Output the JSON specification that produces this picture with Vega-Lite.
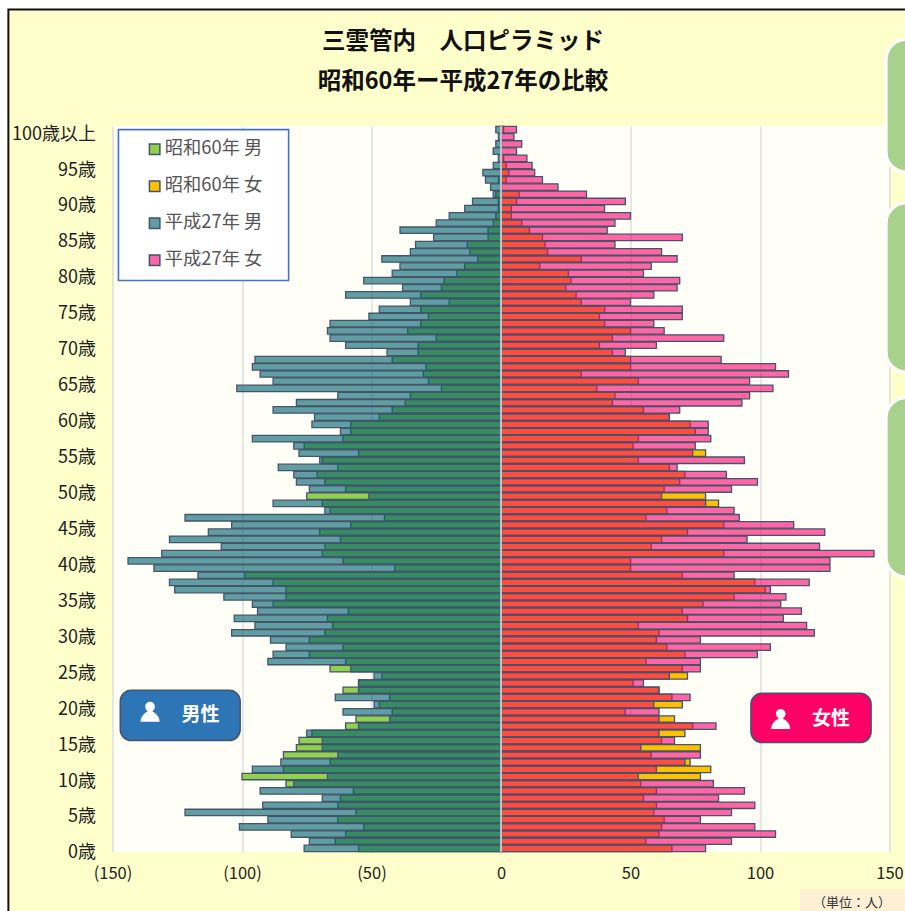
{"$schema":"https://vega.github.io/schema/vega-lite/v6.json","width":777,"height":726,"autosize":"none","padding":{"left":112.5,"top":126,"right":15.5,"bottom":59},"background":"#FFFFCC","view":{"fill":"#FFFFF8","stroke":null},
"config":{"font":"Noto Sans CJK JP"},
"datasets":{"pop":[
{"a":93,"s":"昭和60年 男","v":-1},{"a":91,"s":"昭和60年 男","v":-2},{"a":90,"s":"昭和60年 男","v":-1},{"a":89,"s":"昭和60年 男","v":-1},{"a":88,"s":"昭和60年 男","v":-2},{"a":87,"s":"昭和60年 男","v":-3},{"a":86,"s":"昭和60年 男","v":-5},{"a":85,"s":"昭和60年 男","v":-5},{"a":84,"s":"昭和60年 男","v":-13},{"a":83,"s":"昭和60年 男","v":-12},{"a":82,"s":"昭和60年 男","v":-9},{"a":81,"s":"昭和60年 男","v":-14},{"a":80,"s":"昭和60年 男","v":-17},{"a":79,"s":"昭和60年 男","v":-22},{"a":78,"s":"昭和60年 男","v":-23},{"a":77,"s":"昭和60年 男","v":-31},{"a":76,"s":"昭和60年 男","v":-20},{"a":75,"s":"昭和60年 男","v":-31},{"a":74,"s":"昭和60年 男","v":-28},{"a":73,"s":"昭和60年 男","v":-31},{"a":72,"s":"昭和60年 男","v":-36},{"a":71,"s":"昭和60年 男","v":-25},{"a":70,"s":"昭和60年 男","v":-32},{"a":69,"s":"昭和60年 男","v":-32},{"a":68,"s":"昭和60年 男","v":-42},{"a":67,"s":"昭和60年 男","v":-29},{"a":66,"s":"昭和60年 男","v":-30},{"a":65,"s":"昭和60年 男","v":-28},{"a":64,"s":"昭和60年 男","v":-23},{"a":63,"s":"昭和60年 男","v":-35},{"a":62,"s":"昭和60年 男","v":-37},{"a":61,"s":"昭和60年 男","v":-42},{"a":60,"s":"昭和60年 男","v":-47},{"a":59,"s":"昭和60年 男","v":-58},{"a":58,"s":"昭和60年 男","v":-58},{"a":57,"s":"昭和60年 男","v":-61},{"a":56,"s":"昭和60年 男","v":-76},{"a":55,"s":"昭和60年 男","v":-55},{"a":54,"s":"昭和60年 男","v":-69},{"a":53,"s":"昭和60年 男","v":-63},{"a":52,"s":"昭和60年 男","v":-71},{"a":51,"s":"昭和60年 男","v":-68},{"a":50,"s":"昭和60年 男","v":-60},{"a":49,"s":"昭和60年 男","v":-75},{"a":48,"s":"昭和60年 男","v":-69},{"a":47,"s":"昭和60年 男","v":-66},{"a":46,"s":"昭和60年 男","v":-45},{"a":45,"s":"昭和60年 男","v":-58},{"a":44,"s":"昭和60年 男","v":-70},{"a":43,"s":"昭和60年 男","v":-62},{"a":42,"s":"昭和60年 男","v":-68},{"a":41,"s":"昭和60年 男","v":-69},{"a":40,"s":"昭和60年 男","v":-61},{"a":39,"s":"昭和60年 男","v":-41},{"a":38,"s":"昭和60年 男","v":-99},{"a":37,"s":"昭和60年 男","v":-88},{"a":36,"s":"昭和60年 男","v":-83},{"a":35,"s":"昭和60年 男","v":-83},{"a":34,"s":"昭和60年 男","v":-88},{"a":33,"s":"昭和60年 男","v":-59},{"a":32,"s":"昭和60年 男","v":-67},{"a":31,"s":"昭和60年 男","v":-65},{"a":30,"s":"昭和60年 男","v":-68},{"a":29,"s":"昭和60年 男","v":-74},{"a":28,"s":"昭和60年 男","v":-61},{"a":27,"s":"昭和60年 男","v":-74},{"a":26,"s":"昭和60年 男","v":-60},{"a":25,"s":"昭和60年 男","v":-66},{"a":24,"s":"昭和60年 男","v":-46},{"a":23,"s":"昭和60年 男","v":-55},{"a":22,"s":"昭和60年 男","v":-61},{"a":21,"s":"昭和60年 男","v":-43},{"a":20,"s":"昭和60年 男","v":-47},{"a":19,"s":"昭和60年 男","v":-42},{"a":18,"s":"昭和60年 男","v":-56},{"a":17,"s":"昭和60年 男","v":-60},{"a":16,"s":"昭和60年 男","v":-73},{"a":15,"s":"昭和60年 男","v":-78},{"a":14,"s":"昭和60年 男","v":-79},{"a":13,"s":"昭和60年 男","v":-84},{"a":12,"s":"昭和60年 男","v":-66},{"a":11,"s":"昭和60年 男","v":-84},{"a":10,"s":"昭和60年 男","v":-100},{"a":9,"s":"昭和60年 男","v":-83},{"a":8,"s":"昭和60年 男","v":-57},{"a":7,"s":"昭和60年 男","v":-62},{"a":6,"s":"昭和60年 男","v":-63},{"a":5,"s":"昭和60年 男","v":-56},{"a":4,"s":"昭和60年 男","v":-63},{"a":3,"s":"昭和60年 男","v":-53},{"a":2,"s":"昭和60年 男","v":-60},{"a":1,"s":"昭和60年 男","v":-64},{"a":0,"s":"昭和60年 男","v":-55},
{"a":100,"s":"昭和60年 女","v":1},{"a":96,"s":"昭和60年 女","v":1},{"a":95,"s":"昭和60年 女","v":2},{"a":94,"s":"昭和60年 女","v":3},{"a":93,"s":"昭和60年 女","v":2},{"a":91,"s":"昭和60年 女","v":7},{"a":90,"s":"昭和60年 女","v":6},{"a":89,"s":"昭和60年 女","v":4},{"a":88,"s":"昭和60年 女","v":4},{"a":87,"s":"昭和60年 女","v":8},{"a":86,"s":"昭和60年 女","v":11},{"a":85,"s":"昭和60年 女","v":16},{"a":84,"s":"昭和60年 女","v":17},{"a":83,"s":"昭和60年 女","v":18},{"a":82,"s":"昭和60年 女","v":31},{"a":81,"s":"昭和60年 女","v":15},{"a":80,"s":"昭和60年 女","v":26},{"a":79,"s":"昭和60年 女","v":27},{"a":78,"s":"昭和60年 女","v":25},{"a":77,"s":"昭和60年 女","v":29},{"a":76,"s":"昭和60年 女","v":31},{"a":75,"s":"昭和60年 女","v":40},{"a":74,"s":"昭和60年 女","v":38},{"a":73,"s":"昭和60年 女","v":40},{"a":72,"s":"昭和60年 女","v":50},{"a":71,"s":"昭和60年 女","v":43},{"a":70,"s":"昭和60年 女","v":38},{"a":69,"s":"昭和60年 女","v":43},{"a":68,"s":"昭和60年 女","v":50},{"a":67,"s":"昭和60年 女","v":50},{"a":66,"s":"昭和60年 女","v":31},{"a":65,"s":"昭和60年 女","v":53},{"a":64,"s":"昭和60年 女","v":37},{"a":63,"s":"昭和60年 女","v":44},{"a":62,"s":"昭和60年 女","v":43},{"a":61,"s":"昭和60年 女","v":55},{"a":60,"s":"昭和60年 女","v":65},{"a":59,"s":"昭和60年 女","v":73},{"a":58,"s":"昭和60年 女","v":75},{"a":57,"s":"昭和60年 女","v":53},{"a":56,"s":"昭和60年 女","v":51},{"a":55,"s":"昭和60年 女","v":79},{"a":54,"s":"昭和60年 女","v":53},{"a":53,"s":"昭和60年 女","v":65},{"a":52,"s":"昭和60年 女","v":71},{"a":51,"s":"昭和60年 女","v":69},{"a":50,"s":"昭和60年 女","v":63},{"a":49,"s":"昭和60年 女","v":79},{"a":48,"s":"昭和60年 女","v":84},{"a":47,"s":"昭和60年 女","v":64},{"a":46,"s":"昭和60年 女","v":56},{"a":45,"s":"昭和60年 女","v":86},{"a":44,"s":"昭和60年 女","v":72},{"a":43,"s":"昭和60年 女","v":62},{"a":42,"s":"昭和60年 女","v":58},{"a":41,"s":"昭和60年 女","v":86},{"a":40,"s":"昭和60年 女","v":50},{"a":39,"s":"昭和60年 女","v":50},{"a":38,"s":"昭和60年 女","v":70},{"a":37,"s":"昭和60年 女","v":98},{"a":36,"s":"昭和60年 女","v":102},{"a":35,"s":"昭和60年 女","v":90},{"a":34,"s":"昭和60年 女","v":78},{"a":33,"s":"昭和60年 女","v":70},{"a":32,"s":"昭和60年 女","v":72},{"a":31,"s":"昭和60年 女","v":53},{"a":30,"s":"昭和60年 女","v":61},{"a":29,"s":"昭和60年 女","v":60},{"a":28,"s":"昭和60年 女","v":64},{"a":27,"s":"昭和60年 女","v":71},{"a":26,"s":"昭和60年 女","v":56},{"a":25,"s":"昭和60年 女","v":70},{"a":24,"s":"昭和60年 女","v":72},{"a":23,"s":"昭和60年 女","v":51},{"a":22,"s":"昭和60年 女","v":61},{"a":21,"s":"昭和60年 女","v":66},{"a":20,"s":"昭和60年 女","v":70},{"a":19,"s":"昭和60年 女","v":48},{"a":18,"s":"昭和60年 女","v":67},{"a":17,"s":"昭和60年 女","v":74},{"a":16,"s":"昭和60年 女","v":71},{"a":15,"s":"昭和60年 女","v":62},{"a":14,"s":"昭和60年 女","v":77},{"a":13,"s":"昭和60年 女","v":58},{"a":12,"s":"昭和60年 女","v":73},{"a":11,"s":"昭和60年 女","v":81},{"a":10,"s":"昭和60年 女","v":77},{"a":9,"s":"昭和60年 女","v":54},{"a":8,"s":"昭和60年 女","v":60},{"a":7,"s":"昭和60年 女","v":55},{"a":6,"s":"昭和60年 女","v":60},{"a":5,"s":"昭和60年 女","v":59},{"a":4,"s":"昭和60年 女","v":63},{"a":3,"s":"昭和60年 女","v":62},{"a":2,"s":"昭和60年 女","v":61},{"a":1,"s":"昭和60年 女","v":56},{"a":0,"s":"昭和60年 女","v":66},
{"a":100,"s":"平成27年 男","v":-2},{"a":99,"s":"平成27年 男","v":-1},{"a":98,"s":"平成27年 男","v":-2},{"a":97,"s":"平成27年 男","v":-3},{"a":96,"s":"平成27年 男","v":-1},{"a":95,"s":"平成27年 男","v":-3},{"a":94,"s":"平成27年 男","v":-7},{"a":93,"s":"平成27年 男","v":-6},{"a":92,"s":"平成27年 男","v":-4},{"a":91,"s":"平成27年 男","v":-3},{"a":90,"s":"平成27年 男","v":-11},{"a":89,"s":"平成27年 男","v":-14},{"a":88,"s":"平成27年 男","v":-20},{"a":87,"s":"平成27年 男","v":-25},{"a":86,"s":"平成27年 男","v":-39},{"a":85,"s":"平成27年 男","v":-26},{"a":84,"s":"平成27年 男","v":-33},{"a":83,"s":"平成27年 男","v":-35},{"a":82,"s":"平成27年 男","v":-46},{"a":81,"s":"平成27年 男","v":-39},{"a":80,"s":"平成27年 男","v":-42},{"a":79,"s":"平成27年 男","v":-53},{"a":78,"s":"平成27年 男","v":-38},{"a":77,"s":"平成27年 男","v":-60},{"a":76,"s":"平成27年 男","v":-35},{"a":75,"s":"平成27年 男","v":-47},{"a":74,"s":"平成27年 男","v":-51},{"a":73,"s":"平成27年 男","v":-66},{"a":72,"s":"平成27年 男","v":-67},{"a":71,"s":"平成27年 男","v":-66},{"a":70,"s":"平成27年 男","v":-60},{"a":69,"s":"平成27年 男","v":-44},{"a":68,"s":"平成27年 男","v":-95},{"a":67,"s":"平成27年 男","v":-96},{"a":66,"s":"平成27年 男","v":-93},{"a":65,"s":"平成27年 男","v":-88},{"a":64,"s":"平成27年 男","v":-102},{"a":63,"s":"平成27年 男","v":-63},{"a":62,"s":"平成27年 男","v":-79},{"a":61,"s":"平成27年 男","v":-88},{"a":60,"s":"平成27年 男","v":-72},{"a":59,"s":"平成27年 男","v":-73},{"a":58,"s":"平成27年 男","v":-62},{"a":57,"s":"平成27年 男","v":-96},{"a":56,"s":"平成27年 男","v":-80},{"a":55,"s":"平成27年 男","v":-78},{"a":54,"s":"平成27年 男","v":-70},{"a":53,"s":"平成27年 男","v":-86},{"a":52,"s":"平成27年 男","v":-80},{"a":51,"s":"平成27年 男","v":-79},{"a":50,"s":"平成27年 男","v":-74},{"a":49,"s":"平成27年 男","v":-51},{"a":48,"s":"平成27年 男","v":-88},{"a":47,"s":"平成27年 男","v":-68},{"a":46,"s":"平成27年 男","v":-122},{"a":45,"s":"平成27年 男","v":-104},{"a":44,"s":"平成27年 男","v":-113},{"a":43,"s":"平成27年 男","v":-128},{"a":42,"s":"平成27年 男","v":-108},{"a":41,"s":"平成27年 男","v":-131},{"a":40,"s":"平成27年 男","v":-144},{"a":39,"s":"平成27年 男","v":-134},{"a":38,"s":"平成27年 男","v":-117},{"a":37,"s":"平成27年 男","v":-128},{"a":36,"s":"平成27年 男","v":-126},{"a":35,"s":"平成27年 男","v":-107},{"a":34,"s":"平成27年 男","v":-96},{"a":33,"s":"平成27年 男","v":-94},{"a":32,"s":"平成27年 男","v":-103},{"a":31,"s":"平成27年 男","v":-95},{"a":30,"s":"平成27年 男","v":-104},{"a":29,"s":"平成27年 男","v":-89},{"a":28,"s":"平成27年 男","v":-83},{"a":27,"s":"平成27年 男","v":-88},{"a":26,"s":"平成27年 男","v":-90},{"a":25,"s":"平成27年 男","v":-58},{"a":24,"s":"平成27年 男","v":-49},{"a":23,"s":"平成27年 男","v":-55},{"a":22,"s":"平成27年 男","v":-55},{"a":21,"s":"平成27年 男","v":-64},{"a":20,"s":"平成27年 男","v":-49},{"a":19,"s":"平成27年 男","v":-61},{"a":18,"s":"平成27年 男","v":-43},{"a":17,"s":"平成27年 男","v":-55},{"a":16,"s":"平成27年 男","v":-75},{"a":15,"s":"平成27年 男","v":-69},{"a":14,"s":"平成27年 男","v":-69},{"a":13,"s":"平成27年 男","v":-63},{"a":12,"s":"平成27年 男","v":-85},{"a":11,"s":"平成27年 男","v":-96},{"a":10,"s":"平成27年 男","v":-67},{"a":9,"s":"平成27年 男","v":-80},{"a":8,"s":"平成27年 男","v":-93},{"a":7,"s":"平成27年 男","v":-69},{"a":6,"s":"平成27年 男","v":-92},{"a":5,"s":"平成27年 男","v":-122},{"a":4,"s":"平成27年 男","v":-90},{"a":3,"s":"平成27年 男","v":-101},{"a":2,"s":"平成27年 男","v":-81},{"a":1,"s":"平成27年 男","v":-74},{"a":0,"s":"平成27年 男","v":-76},
{"a":100,"s":"平成27年 女","v":6},{"a":99,"s":"平成27年 女","v":5},{"a":98,"s":"平成27年 女","v":8},{"a":97,"s":"平成27年 女","v":6},{"a":96,"s":"平成27年 女","v":10},{"a":95,"s":"平成27年 女","v":12},{"a":94,"s":"平成27年 女","v":13},{"a":93,"s":"平成27年 女","v":16},{"a":92,"s":"平成27年 女","v":22},{"a":91,"s":"平成27年 女","v":33},{"a":90,"s":"平成27年 女","v":48},{"a":89,"s":"平成27年 女","v":40},{"a":88,"s":"平成27年 女","v":50},{"a":87,"s":"平成27年 女","v":44},{"a":86,"s":"平成27年 女","v":41},{"a":85,"s":"平成27年 女","v":70},{"a":84,"s":"平成27年 女","v":44},{"a":83,"s":"平成27年 女","v":62},{"a":82,"s":"平成27年 女","v":68},{"a":81,"s":"平成27年 女","v":58},{"a":80,"s":"平成27年 女","v":55},{"a":79,"s":"平成27年 女","v":69},{"a":78,"s":"平成27年 女","v":68},{"a":77,"s":"平成27年 女","v":59},{"a":76,"s":"平成27年 女","v":50},{"a":75,"s":"平成27年 女","v":70},{"a":74,"s":"平成27年 女","v":70},{"a":73,"s":"平成27年 女","v":59},{"a":72,"s":"平成27年 女","v":63},{"a":71,"s":"平成27年 女","v":86},{"a":70,"s":"平成27年 女","v":60},{"a":69,"s":"平成27年 女","v":48},{"a":68,"s":"平成27年 女","v":85},{"a":67,"s":"平成27年 女","v":106},{"a":66,"s":"平成27年 女","v":111},{"a":65,"s":"平成27年 女","v":96},{"a":64,"s":"平成27年 女","v":105},{"a":63,"s":"平成27年 女","v":96},{"a":62,"s":"平成27年 女","v":93},{"a":61,"s":"平成27年 女","v":69},{"a":60,"s":"平成27年 女","v":65},{"a":59,"s":"平成27年 女","v":80},{"a":58,"s":"平成27年 女","v":80},{"a":57,"s":"平成27年 女","v":81},{"a":56,"s":"平成27年 女","v":75},{"a":55,"s":"平成27年 女","v":74},{"a":54,"s":"平成27年 女","v":94},{"a":53,"s":"平成27年 女","v":68},{"a":52,"s":"平成27年 女","v":87},{"a":51,"s":"平成27年 女","v":99},{"a":50,"s":"平成27年 女","v":89},{"a":49,"s":"平成27年 女","v":62},{"a":48,"s":"平成27年 女","v":79},{"a":47,"s":"平成27年 女","v":90},{"a":46,"s":"平成27年 女","v":92},{"a":45,"s":"平成27年 女","v":113},{"a":44,"s":"平成27年 女","v":125},{"a":43,"s":"平成27年 女","v":95},{"a":42,"s":"平成27年 女","v":123},{"a":41,"s":"平成27年 女","v":144},{"a":40,"s":"平成27年 女","v":127},{"a":39,"s":"平成27年 女","v":127},{"a":38,"s":"平成27年 女","v":90},{"a":37,"s":"平成27年 女","v":119},{"a":36,"s":"平成27年 女","v":104},{"a":35,"s":"平成27年 女","v":110},{"a":34,"s":"平成27年 女","v":108},{"a":33,"s":"平成27年 女","v":116},{"a":32,"s":"平成27年 女","v":109},{"a":31,"s":"平成27年 女","v":118},{"a":30,"s":"平成27年 女","v":121},{"a":29,"s":"平成27年 女","v":77},{"a":28,"s":"平成27年 女","v":104},{"a":27,"s":"平成27年 女","v":99},{"a":26,"s":"平成27年 女","v":77},{"a":25,"s":"平成27年 女","v":77},{"a":24,"s":"平成27年 女","v":65},{"a":23,"s":"平成27年 女","v":55},{"a":22,"s":"平成27年 女","v":61},{"a":21,"s":"平成27年 女","v":73},{"a":20,"s":"平成27年 女","v":59},{"a":19,"s":"平成27年 女","v":61},{"a":18,"s":"平成27年 女","v":61},{"a":17,"s":"平成27年 女","v":83},{"a":16,"s":"平成27年 女","v":61},{"a":15,"s":"平成27年 女","v":67},{"a":14,"s":"平成27年 女","v":54},{"a":13,"s":"平成27年 女","v":77},{"a":12,"s":"平成27年 女","v":71},{"a":11,"s":"平成27年 女","v":60},{"a":10,"s":"平成27年 女","v":53},{"a":9,"s":"平成27年 女","v":82},{"a":8,"s":"平成27年 女","v":94},{"a":7,"s":"平成27年 女","v":84},{"a":6,"s":"平成27年 女","v":98},{"a":5,"s":"平成27年 女","v":89},{"a":4,"s":"平成27年 女","v":77},{"a":3,"s":"平成27年 女","v":98},{"a":2,"s":"平成27年 女","v":106},{"a":1,"s":"平成27年 女","v":89},{"a":0,"s":"平成27年 女","v":79}
]},
"encoding":{"y":{"field":"a","type":"ordinal","sort":"descending","title":null,"scale":{"paddingInner":0.1,"paddingOuter":0.05},"axis":{"values":[0,5,10,15,20,25,30,35,40,45,50,55,60,65,70,75,80,85,90,95,100],"labelExpr":"datum.value==100?'100歳以上':datum.value+'歳'","domain":false,"ticks":false,"grid":false,"labelPadding":17,"labelFontSize":18,"labelColor":"#222222","labelOffset":5,"labelOverlap":false,"labelBound":false,"labelFlush":false}}},
"layer":[
{"data":{"values":[{"x":-147.7,"x2":-82,"a":100,"a2":79}]},"mark":{"type":"rect","fill":"#FFFFFF","stroke":"#4472C4","strokeWidth":1.6},"encoding":{"x":{"field":"x","type":"quantitative"},"x2":{"field":"x2"},"y2":{"field":"a2"}}},
{"data":{"name":"pop"},"mark":{"type":"bar","stroke":"#44546A","strokeWidth":1.3},"encoding":{"x":{"field":"v","type":"quantitative","stack":null,"title":null,"scale":{"domain":[-150,150],"nice":false},"axis":{"values":[-150,-100,-50,0,50,100,150],"labelExpr":"datum.value<0?'('+(-datum.value)+')':datum.value","domain":false,"ticks":false,"grid":true,"gridColor":"#D9D9D9","gridWidth":1.3,"labelPadding":13.5,"labelFontSize":16.5,"labelColor":"#222222","labelFlush":false,"labelOverlap":false}},"color":{"field":"s","type":"nominal","scale":{"domain":["昭和60年 男","昭和60年 女","平成27年 男","平成27年 女"],"range":["#92D050","#FFC000","rgba(0,98,111,0.62)","rgba(255,0,107,0.6)"]},"legend":{"title":null,"orient":"none","legendX":33,"legendY":14,"padding":0,"symbolType":"square","symbolSize":110,"symbolStrokeColor":"#44546A","symbolStrokeWidth":1.5,"labelFontSize":18.3,"labelColor":"#555555","labelOffset":1,"rowPadding":18,"labelLimit":200}}}},
{"data":{"values":[{"x":0}]},"mark":{"type":"rule","color":"#E6E6E6","strokeWidth":1.5},"encoding":{"x":{"field":"x","type":"quantitative"},"y":null}},
{"data":{"values":[{"x":-147,"x2":-100.7,"a":22,"a2":15}]},"mark":{"type":"rect","stroke":"#44546A","strokeWidth":1.5,"cornerRadius":11,"fill":"#2E75B6"},"encoding":{"x":{"field":"x","type":"quantitative"},"x2":{"field":"x2"},"y2":{"field":"a2"}}},
{"data":{"values":[{"x":96.5,"x2":142.9,"a":22,"a2":15}]},"mark":{"type":"rect","stroke":"#44546A","strokeWidth":1.5,"cornerRadius":11,"fill":"#FF0066","yOffset":3,"y2Offset":2},"encoding":{"x":{"field":"x","type":"quantitative"},"x2":{"field":"x2"},"y2":{"field":"a2"}}},
{"data":{"values":[{"x":-116,"a":19,"t":"男性"}]},"mark":{"type":"text","color":"#FFFFFF","fontSize":19,"fontWeight":"bold","align":"center","baseline":"middle","dy":3},"encoding":{"x":{"field":"x","type":"quantitative"},"text":{"field":"t"}}},
{"data":{"values":[{"x":127.4,"a":18,"t":"女性"}]},"mark":{"type":"text","color":"#FFFFFF","fontSize":19,"fontWeight":"bold","align":"center","baseline":"middle"},"encoding":{"x":{"field":"x","type":"quantitative"},"text":{"field":"t"}}},
{"data":{"values":[{"x":-135.5,"a":19},{"x":108,"a":18}]},"mark":{"type":"point","shape":"M0,-1 a0.48,0.48 0 1,1 -0.001,0 Z M-0.95,1 C-0.95,0.4 -0.55,0.2 -0.25,-0.05 L0.25,-0.05 C0.55,0.2 0.95,0.4 0.95,1 Z","filled":true,"fill":"#FFFFFF","opacity":1,"size":400,"strokeWidth":0},"encoding":{"x":{"field":"x","type":"quantitative"}}},
{"data":{"values":[{"x":148.7,"x2":180,"a":100,"a2":95}]},"mark":{"type":"rect","fill":"#A9D18E","stroke":"#FFFFFF","strokeWidth":3,"cornerRadius":20,"yOffset":-90,"y2Offset":6.5},"encoding":{"x":{"field":"x","type":"quantitative"},"x2":{"field":"x2"},"y2":{"field":"a2"}}},
{"data":{"values":[{"x":148.7,"x2":180,"a":90,"a2":66}]},"mark":{"type":"rect","fill":"#A9D18E","stroke":"#FFFFFF","strokeWidth":3,"cornerRadius":20,"yOffset":1.5,"y2Offset":-2},"encoding":{"x":{"field":"x","type":"quantitative"},"x2":{"field":"x2"},"y2":{"field":"a2"}}},
{"data":{"values":[{"x":148.7,"x2":180,"a":62,"a2":37}]},"mark":{"type":"rect","fill":"#A9D18E","stroke":"#FFFFFF","strokeWidth":3,"cornerRadius":20,"yOffset":-5,"y2Offset":-5.5},"encoding":{"x":{"field":"x","type":"quantitative"},"x2":{"field":"x2"},"y2":{"field":"a2"}}},
{"data":{"values":[{"x":115.4,"x2":170,"a":0}]},"mark":{"type":"rect","fill":"#FDF0D5","yOffset":41,"y2Offset":70},"encoding":{"x":{"field":"x","type":"quantitative"},"x2":{"field":"x2"},"y2":{"field":"a"}}},
{"data":{"values":[{"x":135.5,"a":0,"t":"（単位：人）"}]},"mark":{"type":"text","fontSize":13,"color":"#333333","align":"center","baseline":"middle","dy":55},"encoding":{"x":{"field":"x","type":"quantitative"},"text":{"field":"t"}}},
{"data":{"values":[{"x":-200,"x2":-190.2,"a":100,"a2":0}]},"mark":{"type":"rect","fill":"#FFFFFF","yOffset":-140,"y2Offset":80},"encoding":{"x":{"field":"x","type":"quantitative"},"x2":{"field":"x2"},"y2":{"field":"a2"}}},
{"data":{"values":[{"x":-200,"x2":180,"a":100}]},"mark":{"type":"rect","fill":"#FFFFFF","yOffset":-140,"y2Offset":-120},"encoding":{"x":{"field":"x","type":"quantitative"},"x2":{"field":"x2"},"y2":{"field":"a"}}},
{"data":{"values":[{"x":-190.2,"x2":180,"a":100,"a2":0}]},"mark":{"type":"rect","fill":null,"stroke":"#111111","strokeWidth":2,"yOffset":-120,"y2Offset":80},"encoding":{"x":{"field":"x","type":"quantitative"},"x2":{"field":"x2"},"y2":{"field":"a2"}}},
{"data":{"values":[{"x":-14.7,"a":100,"t":"三雲管内　人口ピラミッド"}]},"mark":{"type":"text","fontSize":23.5,"fontWeight":"bold","color":"#111111","align":"center","baseline":"middle","dy":-88},"encoding":{"x":{"field":"x","type":"quantitative"},"text":{"field":"t"}}},
{"data":{"values":[{"x":-14.7,"a":100,"t":"昭和60年ー平成27年の比較"}]},"mark":{"type":"text","fontSize":23.5,"fontWeight":"bold","color":"#111111","align":"center","baseline":"middle","dy":-48},"encoding":{"x":{"field":"x","type":"quantitative"},"text":{"field":"t"}}}
]}
